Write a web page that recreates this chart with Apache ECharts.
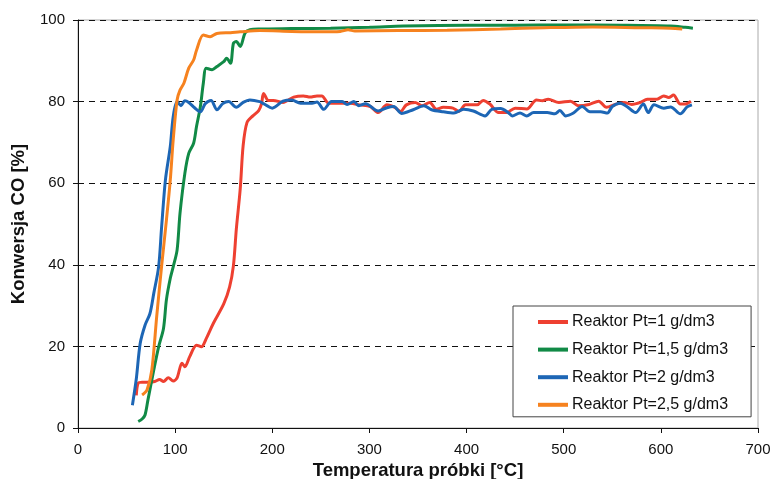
<!DOCTYPE html>
<html>
<head>
<meta charset="utf-8">
<script src="https://cdn.jsdelivr.net/npm/echarts@6/dist/echarts.min.js"></script>
<style>
  html, body { margin: 0; padding: 0; background: #fff; }
  #chart { width: 771px; height: 479px; }
</style>
</head>
<body>
<div id="chart"></div>
<script>
// [temperatura °C, konwersja %]
var pt1 = [[60,8],[62,11],[66,11.2],[71,11.2],[79,11.4],[84,11.9],[88,11.4],[93,12.3],[98,11.5],[102,12.3],[107,15.9],[110,15],[115,17.5],[122,20.3],[127,19.9],[132,21.9],[139,25.5],[150,30.4],[156,34.5],[160,39.8],[163,48.8],[167,58.6],[170,69.2],[174,74.9],[180,76.5],[186,77.8],[189,79.5],[191,82],[196,80.3],[201,80.3],[211,79.8],[222,81.1],[232,81.4],[239,81.1],[246,81.4],[251,81.4],[258,79.6],[266,79.6],[280,79.6],[290,79.2],[301,78.8],[309,77.3],[318,79.2],[326,78.6],[332,77.6],[338,79.2],[347,79.8],[354,79],[362,79.8],[369,78.1],[376,78.6],[386,78.4],[392,77.6],[399,79.2],[411,79.2],[417,80.3],[424,79.4],[433,77.3],[441,77.3],[450,78.4],[462,78.2],[472,80.4],[478,80.2],[484,80.6],[495,79.8],[507,80.1],[515,79],[526,79.3],[536,80.1],[544,78.6],[553,79.3],[562,79.8],[570,79.3],[579,79.8],[586,80.6],[596,80.6],[603,81.4],[608,81],[613,81.6],[620,79.4],[625,79.4],[631,80.1]];
var pt15 = [[62,1.6],[66,2.2],[69,3.2],[72,6.9],[78,14.2],[83,19.9],[88,24.4],[91,31.4],[95,36.7],[98,39.5],[102,43.6],[105,52.6],[110,62.4],[114,67.3],[119,69.8],[122,73.9],[126,78.8],[129,84.5],[132,88.2],[138,87.8],[143,88.6],[150,89.8],[153,90.6],[157,89.4],[160,94.3],[163,94.7],[167,93.5],[172,96.8],[177,97.6],[187,97.8],[220,97.9],[260,98],[300,98.2],[335,98.5],[400,98.7],[450,98.7],[500,98.8],[560,98.7],[610,98.5],[625,98.2],[633,98]];
var pt2 = [[56,5.6],[60,12],[64,20.7],[69,25.2],[74,28],[78,33],[83,39.5],[86,49],[90,60.8],[95,69],[98,76.3],[102,80],[106,79],[110,80.2],[114,79.8],[120,78.5],[126,77.5],[131,79.5],[137,80.3],[143,78],[149,79.5],[155,80],[163,78.6],[170,79.8],[177,80.4],[187,80],[191,79.5],[200,78.4],[211,80.1],[220,80.4],[229,79.6],[241,79.6],[246,79.9],[253,78.1],[261,80],[272,80],[277,79.3],[284,80],[289,79],[296,79.5],[309,77.7],[318,78.5],[325,78.8],[333,77.1],[345,78],[356,79],[364,78],[376,77.5],[387,77.2],[397,78.1],[407,77.7],[419,76.5],[426,78.1],[435,78.3],[443,77.3],[447,76.5],[455,77.2],[462,76.5],[469,77.3],[483,77.3],[491,77],[496,77.8],[502,76.5],[510,77.2],[519,78.8],[527,77.5],[538,77.5],[545,77.2],[550,78.8],[558,79.6],[565,78.8],[574,77.3],[582,79.4],[587,77.3],[593,79.2],[603,78.4],[610,78.7],[620,77],[627,78.7],[632,79.2]];
var pt25 = [[66,8.1],[71,9.3],[76,14.2],[81,27.3],[86,39.5],[91,50.9],[95,60.8],[98,70.6],[102,80.4],[105,82.8],[109,84.5],[114,88.2],[119,90.2],[122,92.6],[129,96.3],[136,95.9],[143,96.7],[157,96.9],[167,97.1],[187,97.4],[220,97.2],[250,97.1],[270,97.2],[278,97.6],[285,97.3],[330,97.4],[380,97.5],[435,97.8],[480,98.1],[530,98.3],[580,98.1],[610,98],[622,97.8]];

var seriesNames = ['Reaktor Pt=1 g/dm3', 'Reaktor Pt=1,5 g/dm3', 'Reaktor Pt=2 g/dm3', 'Reaktor Pt=2,5 g/dm3'];
var seriesData = [pt1, pt15, pt2, pt25];
var colors = ['#ee4031', '#118a46', '#1d66b5', '#f6821f'];

var font = "'Liberation Sans', Arial, sans-serif";

var chart = echarts.init(document.getElementById('chart'));
chart.setOption({
    animation: false,
    backgroundColor: '#fff',
    textStyle: { fontFamily: font },
    grid: {
        left: 78, right: 13, top: 20, bottom: 51,
        containLabel: false,
        outerBoundsMode: 'none',
        show: true, borderColor: '#aaa', borderWidth: 1
    },
    legend: {
        orient: 'vertical',
        left: 513, top: 306,
        padding: [8, 23, 4, 25],
        backgroundColor: '#fff',
        borderColor: '#444', borderWidth: 1,
        itemWidth: 30, itemHeight: 4, itemGap: 11.6,
        icon: 'rect',
        textStyle: { fontSize: 16, lineHeight: 16, color: '#111', padding: [0, 0, 0, -1] },
        data: seriesNames
    },
    xAxis: {
        type: 'value', min: 0, max: 700, interval: 100,
        name: 'Temperatura próbki [°C]', nameLocation: 'middle', nameGap: 31,
        nameTextStyle: { fontWeight: 'bold', fontSize: 18.5, color: '#111' },
        axisLine: { lineStyle: { color: '#111', width: 1 } },
        axisTick: { show: true, length: 5, lineStyle: { color: '#111' } },
        axisLabel: { color: '#111', fontSize: 15, margin: 14 },
        splitLine: { show: false }
    },
    yAxis: {
        type: 'value', min: 0, max: 100, interval: 20,
        name: 'Konwersja CO [%]', nameLocation: 'middle', nameGap: 50,
        nameTextStyle: { fontWeight: 'bold', fontSize: 18.5, color: '#111' },
        axisLine: { show: true, lineStyle: { color: '#111', width: 1 } },
        axisTick: { show: true, length: 5, lineStyle: { color: '#111' } },
        axisLabel: { color: '#111', fontSize: 15, margin: 13 },
        splitLine: { show: true, lineStyle: { color: '#111', type: [6, 5], width: 1 } }
    },
    series: seriesData.map(function (d, i) {
        return {
            name: seriesNames[i],
            type: 'line',
            data: d,
            smooth: 0.3,
            showSymbol: false,
            lineStyle: { color: colors[i], width: 3 },
            itemStyle: { color: colors[i] }
        };
    })
});
</script>
</body>
</html>
